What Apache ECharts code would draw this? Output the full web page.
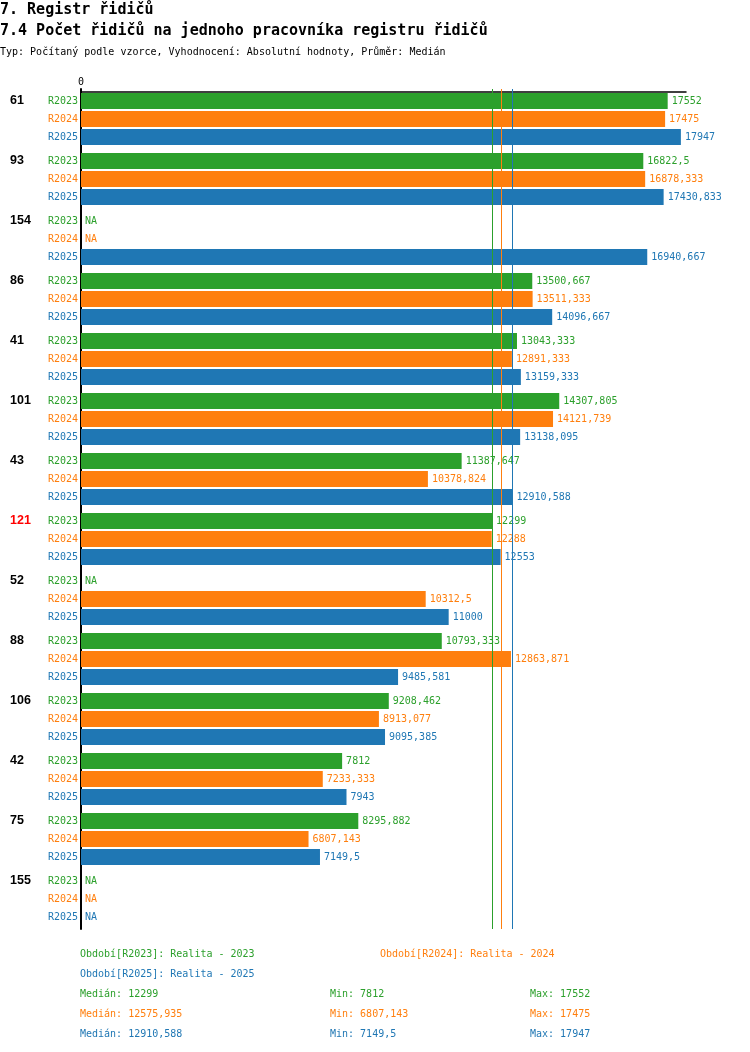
<!DOCTYPE html>
<html>
<head>
<meta charset="utf-8">
<script src="https://cdn.jsdelivr.net/npm/echarts@6/dist/echarts.min.js"></script>
<style>html,body{margin:0;padding:0;background:#fff}#c{width:750px;height:1052px}</style>
</head>
<body>
<div id="c"></div>
<script>
const groups = ['61','93','154','86','41','101','43','121','52','88','106','42','75','155'];
const highlighted = ['121'];
const periods = ['R2023','R2024','R2025'];
const periodNames = ['Období[R2023]: Realita - 2023','Období[R2024]: Realita - 2024','Období[R2025]: Realita - 2025'];
const r2023 = [17552,16822.5,null,13500.667,13043.333,14307.805,11387.647,12299,null,10793.333,9208.462,7812,8295.882,null];
const r2024 = [17475,16878.333,null,13511.333,12891.333,14121.739,10378.824,12288,10312.5,12863.871,8913.077,7233.333,6807.143,null];
const r2025 = [17947,17430.833,16940.667,14096.667,13159.333,13138.095,12910.588,12553,11000,9485.581,9095.385,7943,7149.5,null];
const medians = [12299,12575.935,12910.588];
const mins = [7812,6807.143,7149.5];
const maxs = [17552,17475,17947];
const colors = ['#2ca02c','#ff7f0e','#1f77b4'];

const values = [r2023, r2024, r2025];
const MONO = '"DejaVu Sans Mono", monospace';
const fmt = v => String(v).replace('.', ',');

const series = [];
values.forEach((arr, i) => {
  series.push({
    type: 'bar', stack: 's' + i, barWidth: 16, barGap: '12.5%', silent: true,
    data: groups.map(() => 0),
    itemStyle: { color: 'rgba(0,0,0,0)' },
    label: { show: true, position: 'left', distance: 3, formatter: periods[i],
      color: colors[i], fontFamily: MONO, fontSize: 10 }
  });
  series.push({
    type: 'bar', stack: 's' + i, barWidth: 16, barGap: '12.5%', silent: true,
    name: periods[i],
    data: arr.map(v => v == null ? 0 : v),
    itemStyle: { color: colors[i] },
    label: { show: true, position: 'right', distance: 4,
      formatter: p => arr[p.dataIndex] == null ? 'NA' : fmt(arr[p.dataIndex]),
      color: colors[i], fontFamily: MONO, fontSize: 10 },
    markLine: { silent: true, symbol: ['none','none'], label: { show: false },
      lineStyle: { color: colors[i], width: 1, type: 'solid' },
      data: [{ xAxis: medians[i] }] }
  });
});

const graphic = [
  { type: 'text', x: 0, y: 10, style: { text: '7. Registr řidičů', font: 'bold 15px "DejaVu Sans Mono"', fill: '#000', verticalAlign: 'middle', textVerticalAlign: 'middle' } },
  { type: 'text', x: 0, y: 31, style: { text: '7.4 Počet řidičů na jednoho pracovníka registru řidičů', font: 'bold 15px "DejaVu Sans Mono"', fill: '#000', verticalAlign: 'middle', textVerticalAlign: 'middle' } },
  { type: 'text', x: 0, y: 52, style: { text: 'Typ: Počítaný podle vzorce, Vyhodnocení: Absolutní hodnoty, Průměr: Medián', font: '10px "DejaVu Sans Mono"', fill: '#000', verticalAlign: 'middle', textVerticalAlign: 'middle' } }
];
const legendPos = [[80, 954], [380, 954], [80, 974]];
periodNames.forEach((t, i) => {
  graphic.push({ type: 'text', x: legendPos[i][0], y: legendPos[i][1],
    style: { text: t, font: '10px "DejaVu Sans Mono"', fill: colors[i], verticalAlign: 'middle', textVerticalAlign: 'middle' } });
});
[0,1,2].forEach(i => {
  const y = 994 + i * 20;
  [['Medián: ' + fmt(medians[i]), 80], ['Min: ' + fmt(mins[i]), 330], ['Max: ' + fmt(maxs[i]), 530]].forEach(([t, x]) => {
    graphic.push({ type: 'text', x: x, y: y,
      style: { text: t, font: '10px "DejaVu Sans Mono"', fill: colors[i], verticalAlign: 'middle', textVerticalAlign: 'middle' } });
  });
});

const chart = echarts.init(document.getElementById('c'));
chart.setOption({
  animation: false,
  backgroundColor: '#fff',
  grid: { left: 81, top: 89, width: 605, height: 840, containLabel: false },
  xAxis: {
    type: 'value', position: 'top', min: 0, max: 18100, interval: 18100, offset: -3,
    splitLine: { show: false },
    axisLine: { show: true, lineStyle: { color: '#000', width: 1.5 } },
    axisTick: { show: false },
    axisLabel: { margin: 5, formatter: v => v === 0 ? '0' : '', color: '#000', fontFamily: MONO, fontSize: 10 }
  },
  yAxis: {
    type: 'category', inverse: true, data: groups,
    axisLine: { show: true, lineStyle: { color: '#000', width: 2 } },
    axisTick: { show: false },
    axisLabel: { align: 'left', margin: 71, lineHeight: 18,
      formatter: v => v + '\n \n ',
      color: v => highlighted.includes(v) ? '#ff0000' : '#000',
      fontWeight: 'bold', fontFamily: '"Liberation Sans", Arial, sans-serif', fontSize: 12.5 }
  },
  series: series,
  graphic: graphic
});
</script>
</body>
</html>
